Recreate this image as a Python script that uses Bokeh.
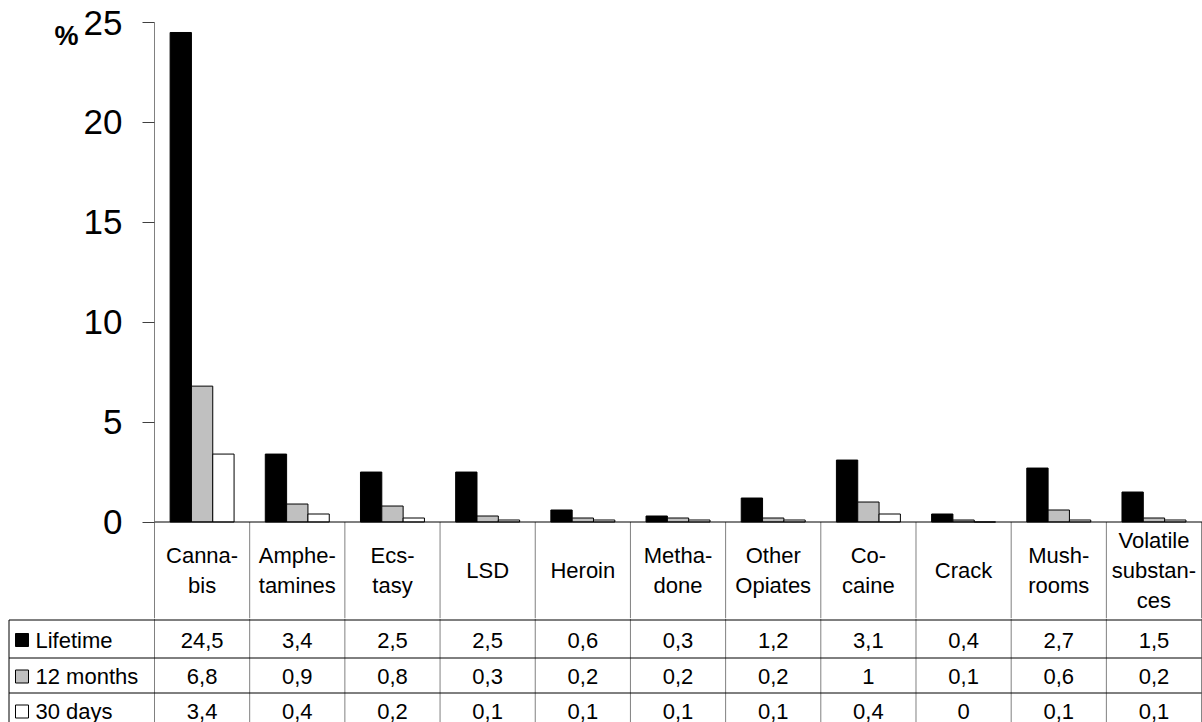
import numpy as np
from bokeh.plotting import figure
from bokeh.models import Range1d, FixedTicker, Span, LinearAxis, CustomJSTickFormatter
from bokeh.core.properties import value
from bokeh.embed import file_html
from bokeh.resources import INLINE

# ---- data ----
categories = ["Canna-\nbis", "Amphe-\ntamines", "Ecs-\ntasy", "LSD", "Heroin",
              "Metha-\ndone", "Other\nOpiates", "Co-\ncaine", "Crack",
              "Mush-\nrooms", "Volatile\nsubstan-\nces"]
series_names = ["Lifetime", "12 months", "30 days"]
lifetime = [24.5, 3.4, 2.5, 2.5, 0.6, 0.3, 1.2, 3.1, 0.4, 2.7, 1.5]
months12 = [6.8, 0.9, 0.8, 0.3, 0.2, 0.2, 0.2, 1.0, 0.1, 0.6, 0.2]
days30 = [3.4, 0.4, 0.2, 0.1, 0.1, 0.1, 0.1, 0.4, 0.0, 0.1, 0.1]
y_ticks = [0, 5, 10, 15, 20, 25]

colors = ["#000000", "#C0C0C0", "#FFFFFF"]
FONT = "Liberation Sans"
n = len(categories)
idx = np.arange(n)
bw = 0.224

# ---- chart (top part incl. header row of the table) ----
W = 1202
H1 = 618
top_b = 22
frame_h = H1 - top_b
ppu = 19.98                       # px per value unit
y_start = 25 - frame_h / ppu
x_end = n + 0.01
px = (W - 154) / x_end            # px per category

p1 = figure(width=W, height=H1, x_range=Range1d(0, x_end), y_range=Range1d(y_start, 25),
            output_backend="svg", toolbar_location=None, x_axis_location=None,
            min_border_left=154, min_border_right=0, min_border_top=top_b, min_border_bottom=0,
            background_fill_color="white", border_fill_color="white")
p1.outline_line_color = None
p1.grid.visible = False
yax = p1.yaxis[0]
yax.ticker = FixedTicker(ticks=y_ticks)
yax.bounds = (y_start, 25)
yax.minor_tick_line_color = None
yax.major_tick_in = 0
yax.major_tick_out = 12
yax.major_tick_line_color = "#404040"
yax.axis_line_color = "#808080"
yax.major_label_standoff = 20
yax.major_label_text_font = FONT
yax.major_label_text_font_size = "35px"
yax.major_label_text_color = "black"

# "%" unit label as an outer axis
pct = LinearAxis(ticker=FixedTicker(ticks=[24.3]),
                 formatter=CustomJSTickFormatter(code="return '%';"),
                 axis_line_color=None, major_tick_line_color=None, minor_tick_line_color=None,
                 major_tick_in=0, major_tick_out=0, major_label_standoff=2,
                 major_label_text_font=FONT, major_label_text_font_size="27px",
                 major_label_text_font_style="bold", major_label_text_color="black")
p1.add_layout(pct, "left")

for k, (vals, col) in enumerate(zip([lifetime, months12, days30], colors)):
    p1.vbar(x=idx + 0.5 + (k - 1) * bw, top=vals, width=bw, bottom=0,
            fill_color=col, line_color="black", line_width=1)

# table header: column separators below the axis
p1.segment(x0=list(range(1, n + 1)), y0=[0] * n, x1=list(range(1, n + 1)), y1=[y_start - 1] * n,
           line_color="#808080", line_width=1)
p1.add_layout(Span(location=0, dimension="width", line_color="black", line_width=1))

hdr_y = (521.5 - 570) / ppu
p1.text(x=idx + 0.5, y=[hdr_y] * n, text=categories, text_font=value(FONT),
        text_font_size="22px", text_align="center", text_baseline="middle",
        text_line_height=1.2, text_color="black")

# ---- table rows ----
H2 = 722 - H1
xs = -154 / px
xe = xs + W / px
p2 = figure(width=W, height=H2, x_range=Range1d(xs, xe), y_range=Range1d(-H2, 0),
            output_backend="svg", toolbar_location=None, x_axis_location=None,
            y_axis_location=None, min_border=0,
            background_fill_color="white", border_fill_color="white")
p2.outline_line_color = None
p2.grid.visible = False

left = xs + 8.5 / px
row_lines = [-1.5, -39.5, -74.5]
row_centers = [-21.5, -58.0, -93.0]

p2.segment(x0=list(range(n + 1)), y0=[0] * (n + 1), x1=list(range(n + 1)), y1=[-H2 - 5] * (n + 1),
           line_color="#808080", line_width=1)
p2.segment(x0=[left] * 3, y0=row_lines, x1=[n] * 3, y1=row_lines,
           line_color="black", line_width=1)
p2.segment(x0=[left], y0=[row_lines[0]], x1=[left], y1=[-H2 - 5], line_color="black", line_width=1)

key_x = xs + 21.5 / px
lab_x = xs + 35 / px
p2.scatter(x=[key_x] * 3, y=row_centers, marker="square", size=13,
           fill_color=colors, line_color="black", line_width=1)
p2.text(x=[lab_x] * 3, y=row_centers, text=series_names, text_font=value(FONT),
        text_font_size="22px", text_align="left", text_baseline="middle", text_color="black")


def fmt(v):
    return f"{v:g}".replace(".", ",")


for vals, yc in zip([lifetime, months12, days30], row_centers):
    p2.text(x=idx + 0.5, y=[yc] * n, text=[fmt(v) for v in vals], text_font=value(FONT),
            text_font_size="22px", text_align="center", text_baseline="middle",
            text_color="black")

open("out.html", "w").write(file_html([p1, p2], INLINE))
